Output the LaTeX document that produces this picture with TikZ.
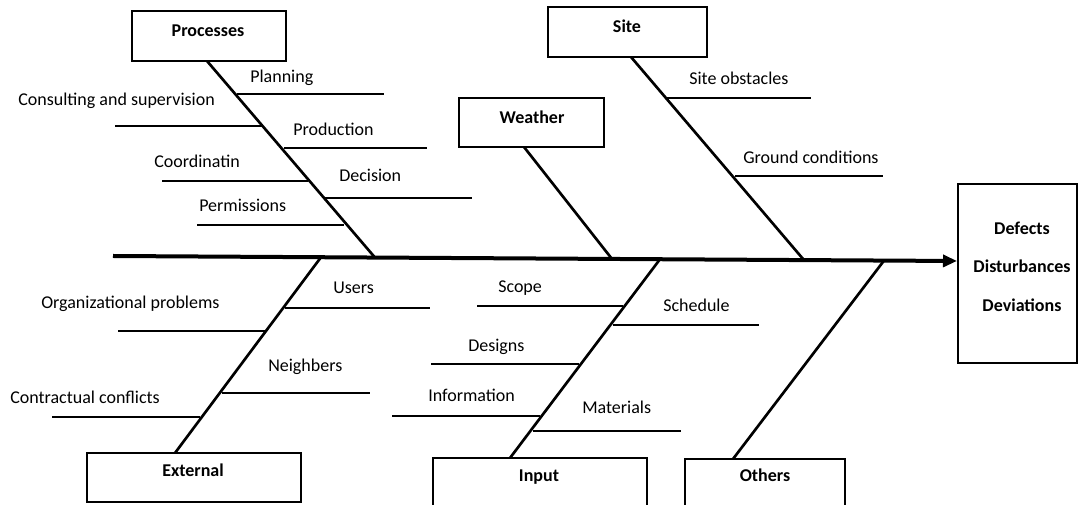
\documentclass[tikz,border=0pt]{standalone}
\usepackage{fontspec}
\setmainfont{Carlito}
\usetikzlibrary{arrows.meta,fit}
\begin{document}
\begin{tikzpicture}[x=0.75pt,y=-0.75pt,
  box/.style={draw=black,line width=0.9pt,inner sep=0pt},
  title/.style={font=\fontsize{13.5}{16}\selectfont\bfseries,inner sep=0pt,anchor=base},
  lbl/.style={font=\fontsize{13.5}{16}\selectfont,inner sep=0pt,anchor=base west},
  spine/.style={line width=3pt,-{Triangle[length=10.5pt,width=9pt]}},
  bone/.style={line width=2pt},
  twig/.style={line width=1pt}]
\useasboundingbox (0,0) rectangle (1079,505);
% boxes
\node[box,fit={(132,11) (286,61)}] (proc) {};
\node[box,fit={(548,7) (707,57)}] (site) {};
\node[box,fit={(459,98) (604,147)}] (weather) {};
\node[box,fit={(958,184) (1077,363)}] (effect) {};
\node[box,fit={(87,453) (301,502)}] (ext) {};
\node[box,fit={(433,458) (647,520)}] (input) {};
\node[box,fit={(685,459) (845,520)}] (others) {};
% titles
\node[title] (tproc) at (208,37) {Processes};
\node[title] (tsite) at (627,33) {Site};
\node[title] (tweather) at (532,124) {Weather};
\node[title] (tdef) at (1022,235) {Defects};
\node[title] (tdis) at (1022,273) {Disturbances};
\node[title] (tdev) at (1022,312) {Deviations};
\node[title] (text) at (193,477) {External};
\node[title] (tinput) at (539,482) {Input};
\node[title] (tothers) at (765,482) {Others};
% spine
\coordinate (tail) at (113,256);
\coordinate (head) at (957,261);
\draw[spine] (tail) -- (head);
% bones
\coordinate (procA) at (207,61);   \coordinate (procB) at (375,257.6);
\coordinate (weaA) at (524,147);   \coordinate (weaB) at (612,259);
\coordinate (siteA) at (631,57);   \coordinate (siteB) at (804,260.1);
\coordinate (extA) at (175,453);   \coordinate (extB) at (321,257.2);
\coordinate (inA) at (510,458);    \coordinate (inB) at (660,259.2);
\coordinate (othA) at (733,459);   \coordinate (othB) at (884,260.6);
\draw[bone] (procA) -- (procB);
\draw[bone] (weaA) -- (weaB);
\draw[bone] (siteA) -- (siteB);
\draw[bone] (extA) -- (extB);
\draw[bone] (inA) -- (inB);
\draw[bone] (othA) -- (othB);
% twigs: Processes
\coordinate (pl1) at (237,94);  \coordinate (pl2) at (384,94);
\coordinate (cs1) at (115,126); \coordinate (cs2) at (262,126);
\coordinate (pr1) at (284,148); \coordinate (pr2) at (427,148);
\coordinate (co1) at (162,181); \coordinate (co2) at (308,181);
\coordinate (de1) at (325,198); \coordinate (de2) at (472,198);
\coordinate (pe1) at (197,225); \coordinate (pe2) at (344,225);
\draw[twig] (pl1) -- (pl2);
\draw[twig] (cs1) -- (cs2);
\draw[twig] (pr1) -- (pr2);
\draw[twig] (co1) -- (co2);
\draw[twig] (de1) -- (de2);
\draw[twig] (pe1) -- (pe2);
\node[lbl] (lpl) at (250,83) {Planning};
\node[lbl] (lcs) at (18,106) {Consulting and supervision};
\node[lbl] (lpr) at (293,136) {Production};
\node[lbl] (lco) at (154,168) {Coordinatin};
\node[lbl] (lde) at (339,182) {Decision};
\node[lbl] (lpe) at (199,212) {Permissions};
% twigs: Site
\coordinate (so1) at (666,98);  \coordinate (so2) at (811,98);
\coordinate (gc1) at (735,176); \coordinate (gc2) at (883,176);
\draw[twig] (so1) -- (so2);
\draw[twig] (gc1) -- (gc2);
\node[lbl] (lso) at (689,85) {Site obstacles};
\node[lbl] (lgc) at (743,164) {Ground conditions};
% twigs: External
\coordinate (us1) at (285,308); \coordinate (us2) at (430,308);
\coordinate (op1) at (118,331); \coordinate (op2) at (265,331);
\coordinate (ne1) at (222,393); \coordinate (ne2) at (370,393);
\coordinate (cc1) at (52,417);  \coordinate (cc2) at (200,417);
\draw[twig] (us1) -- (us2);
\draw[twig] (op1) -- (op2);
\draw[twig] (ne1) -- (ne2);
\draw[twig] (cc1) -- (cc2);
\node[lbl] (lus) at (333,294) {Users};
\node[lbl] (lop) at (41,309) {Organizational problems};
\node[lbl] (lne) at (268,372) {Neighbers};
\node[lbl] (lcc) at (10,404) {Contractual conflicts};
% twigs: Input
\coordinate (sc1) at (477,306); \coordinate (sc2) at (623,306);
\coordinate (sh1) at (613,325); \coordinate (sh2) at (759,325);
\coordinate (ds1) at (431,364); \coordinate (ds2) at (579,364);
\coordinate (in1) at (392,416); \coordinate (in2) at (540,416);
\coordinate (ma1) at (533,431); \coordinate (ma2) at (681,431);
\draw[twig] (sc1) -- (sc2);
\draw[twig] (sh1) -- (sh2);
\draw[twig] (ds1) -- (ds2);
\draw[twig] (in1) -- (in2);
\draw[twig] (ma1) -- (ma2);
\node[lbl] (lsc) at (498,293) {Scope};
\node[lbl] (lsh) at (663,312) {Schedule};
\node[lbl] (lds) at (468,352) {Designs};
\node[lbl] (lin) at (428,402) {Information};
\node[lbl] (lma) at (582,414) {Materials};
\end{tikzpicture}
\end{document}
